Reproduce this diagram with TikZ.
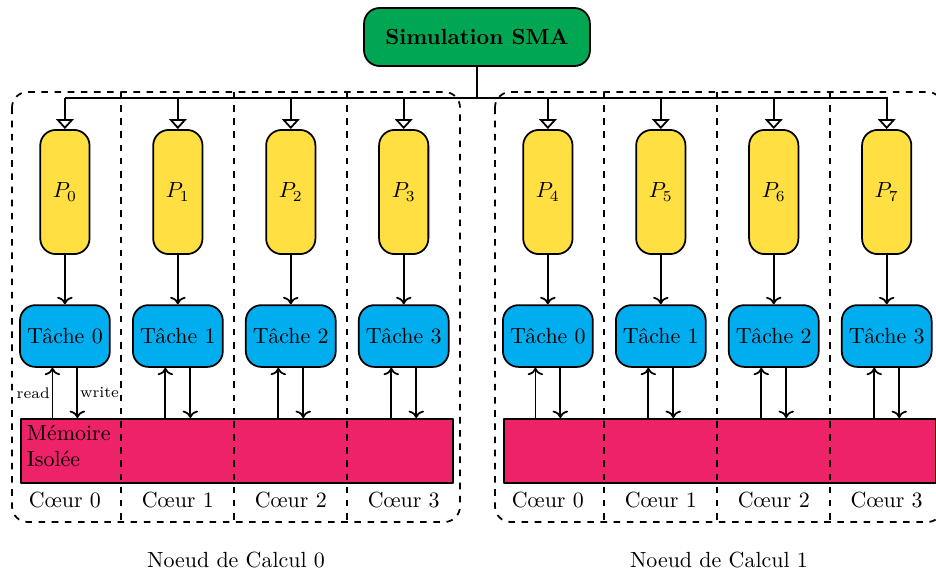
\documentclass[tikz,border=0pt]{standalone}
\usetikzlibrary{arrows.meta,calc}
\definecolor{vertSMA}{HTML}{00A651}
\definecolor{jauneP}{HTML}{FFDF42}
\definecolor{bleuT}{HTML}{00AEEF}
\definecolor{roseM}{HTML}{ED2268}
\begin{document}
\begin{tikzpicture}[line join=round,>=To,
	proc/.style={draw,thick,fill=jauneP,rounded corners=0.25cm,minimum width=0.79cm,minimum height=1.99cm,inner sep=0pt},
	tache/.style={draw,thick,fill=bleuT,rounded corners=0.25cm,minimum width=1.44cm,minimum height=0.99cm,inner sep=0pt},
	mem/.style={draw,thick,fill=roseM,minimum width=6.924cm,minimum height=1.025cm,inner sep=0pt,anchor=north west},
	bus/.style={thick,-{Triangle[open,width=8pt,length=4.5pt]}}]
	\useasboundingbox (0,0) rectangle (15,-9.247);
	%Simulation SMA
	\node[draw,thick,fill=vertSMA,rounded corners=0.25cm,minimum width=3.62cm,minimum height=0.93cm,font=\bfseries] (sma) at (7.644,-0.593) {Simulation SMA};
	\coordinate (busG) at (1.04,-1.571);
	\coordinate (busD) at (14.23,-1.571);
	\foreach \n in {0,1}{
		%Noeud de calcul
		\draw[dashed,thick,rounded corners=0.25cm] (0.192+7.74*\n,-1.474) rectangle (7.372+7.74*\n,-8.365);
		\node[mem] (M\n) at (0.32+7.74*\n,-6.699) {};
		\foreach \s in {1,2,3}
			\draw[dashed,thick] (1.04+7.74*\n+1.81*\s-0.905,-1.474)--(1.04+7.74*\n+1.81*\s-0.905,-8.365);
		\node at (3.782+7.74*\n,-8.974) {Noeud de Calcul \n};
		%Coeurs
		\foreach \c in {0,1,2,3}{
			\pgfmathtruncatemacro\k{4*\n+\c}
			\pgfmathsetmacro\x{1.04+7.74*\n+1.81*\c}
			\node[proc] (P\k) at (\x,-3.077) {$P_{\k}$};
			\node[tache] (T\k) at (\x,-5.385) {Tâche \c};
			\node (C\k) at (\x,-8.01) {C\oe ur \c};
			\draw[bus] (P\k.north |- busG)--(P\k.north);
			\draw[thick,->] (P\k)--(T\k);
			\draw[thick,->] ([xshift=-0.2cm]T\k.south |- M\n.north)--([xshift=-0.2cm]T\k.south);
			\draw[thick,->] ([xshift=0.2cm]T\k.south)--([xshift=0.2cm]T\k.south |- M\n.north);
		}
	}
	%Bus
	\draw[thick] (sma.south)--(sma.south |- busG);
	\draw[thick] (busG)--(busD);
	%Memoire
	\node[anchor=north west,align=left,inner sep=3pt] (txtM) at (M0.north west) {Mémoire\\Isolée};
	\node[font=\scriptsize,left,inner sep=1pt] at ([xshift=-0.2cm]$(T0.south)!0.5!(T0.south |- M0.north)$) {read};
	\node[font=\scriptsize,right,inner sep=1pt] at ([xshift=0.2cm]$(T0.south)!0.5!(T0.south |- M0.north)$) {write};
\end{tikzpicture}
\end{document}
